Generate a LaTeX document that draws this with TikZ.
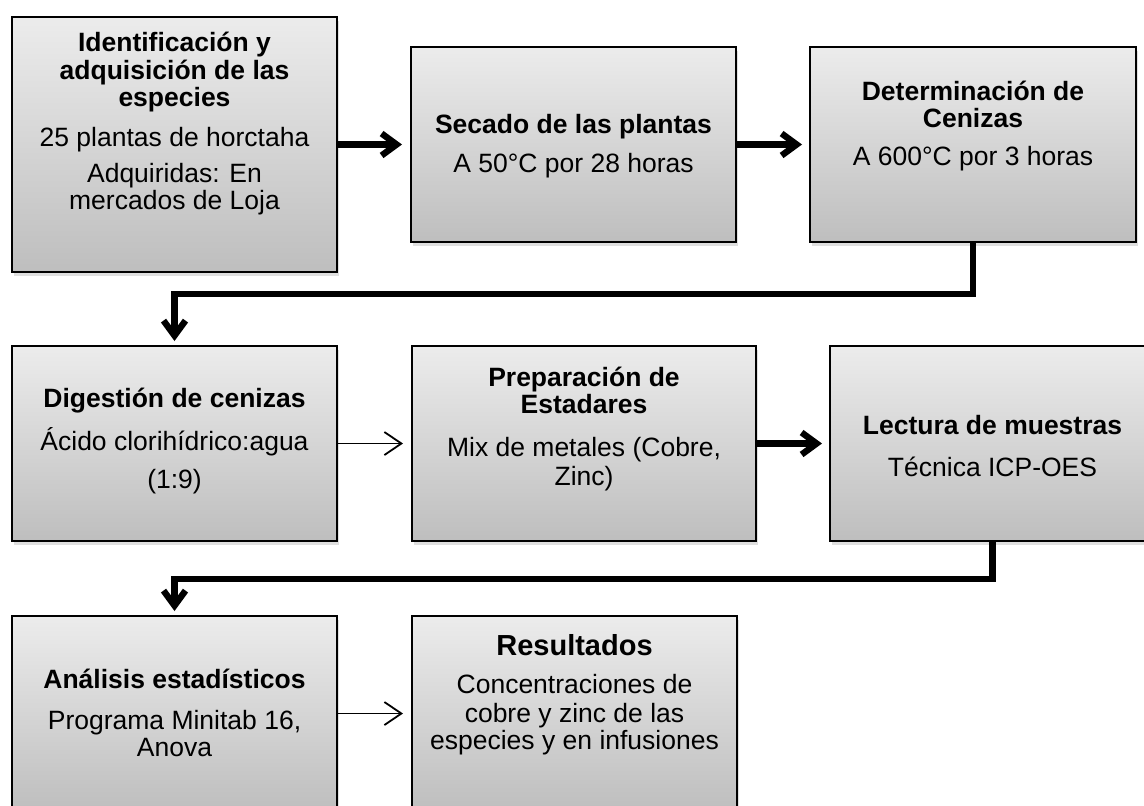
\documentclass[tikz,border=0pt]{standalone}
\usepackage{fontspec}
\setmainfont{Liberation Sans}
\usetikzlibrary{arrows.meta,shadows}
\definecolor{boxtop}{RGB}{236,236,236}
\definecolor{boxbot}{RGB}{190,190,190}
\begin{document}
\begin{tikzpicture}[x=0.5pt,y=-0.5pt,
  box/.style={draw=black, line width=1pt, top color=boxtop, bottom color=boxbot,
    minimum width=162.5pt, minimum height=97.5pt, inner sep=0pt,
    drop shadow={shadow xshift=1pt, shadow yshift=-1.8pt, opacity=0.25}},
  txt/.style={inner sep=0pt, align=center, font=\fontsize{13.25pt}{13.6pt}\selectfont},
  thickarrow/.style={line width=3.2pt, -{Straight Barb[length=7.5pt,width=11pt]}},
  thinarrow/.style={line width=0.9pt, -{Straight Barb[length=8.5pt,width=11.5pt]}},
  elbow/.style={line width=3.2pt, line join=miter, -{Straight Barb[length=7.5pt,width=11pt]}}
]
\clip (0,0) rectangle (1144,805);
\fill[white] (0,0) rectangle (1144,805);

% boxes
\node[box, minimum height=127.5pt] (b1) at (174.5,144.5) {};
\node[box] (b2) at (573.5,144.5) {};
\node[box, minimum width=163pt] (b3) at (973,144.5) {};
\node[box] (b4) at (174.5,443.5) {};
\node[box, minimum width=172pt] (b5) at (584,443.5) {};
\node[box] (b6) at (992.5,443.5) {};
\node[box] (b7) at (174.5,713.5) {};
\node[box] (b8) at (574.5,713.5) {};

% texts
\node[txt] (t1) at (174.5,124) {\textbf{Identificación y}\\\textbf{adquisición de las}\\\textbf{especies}\\[6.5pt]
  25 plantas de horctaha\\[4.5pt]Adquiridas: En\\mercados de Loja};
\node[txt] (t2) at (573.5,146) {\textbf{Secado de las plantas}\\[5.8pt]A 50°C por 28 horas};
\node[txt] (t3) at (973,126) {\textbf{Determinación de}\\\textbf{Cenizas}\\[5.5pt]A 600°C por 3 horas};
\node[txt] (t4) at (174.5,441) {\textbf{Digestión de cenizas}\\[6pt]Ácido clorihídrico:agua\\[5.5pt](1:9)};
\node[txt] (t5) at (584,429) {\textbf{Preparación de}\\\textbf{Estadares}\\[7.5pt]Mix de metales (Cobre,\\[1pt]Zinc)};
\node[txt] (t6) at (992.5,446) {\textbf{Lectura de muestras}\\[7pt]Técnica ICP-OES};
\node[txt] (t7) at (174.5,713) {\textbf{Análisis estadísticos}\\[6.5pt]Programa Minitab 16,\\Anova};
\node[txt] (t8) at (574.5,695) {{\fontsize{14.5pt}{15pt}\selectfont\textbf{Resultados}}\\[5pt]Concentraciones de\\[1pt]cobre y zinc de las\\especies y en infusiones};

% connectors
\draw[thickarrow, shorten >=4pt] (b1.east) -- (b2.west);
\draw[thickarrow, shorten >=3.5pt] (b2.east) -- (b3.west);
\draw[thinarrow, shorten >=4pt] (b4.east) -- (b5.west);
\draw[thickarrow, shorten >=3.5pt] (b5.east) -- (b6.west);
\draw[thinarrow, shorten >=4pt] (b7.east) -- (b8.west);
\draw[elbow, shorten >=2pt] (b3.south) -- ++(0,51) -| (b4.north);
\draw[elbow, shorten >=2pt] (b6.south) -- ++(0,37) -| (b7.north);
\end{tikzpicture}
\end{document}
